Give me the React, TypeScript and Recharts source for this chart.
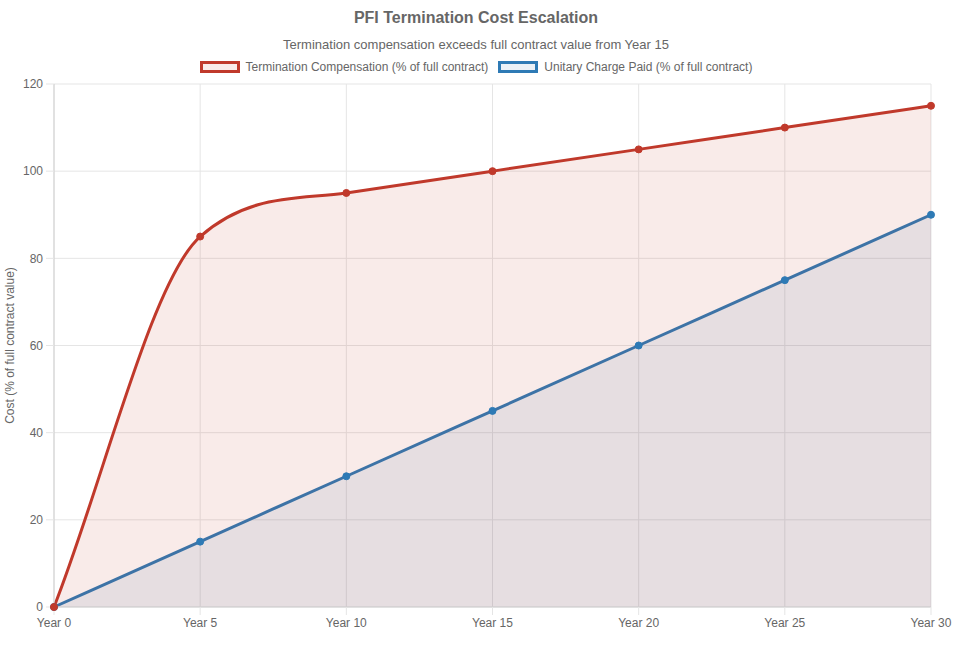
import { AreaChart, Area, XAxis, YAxis, CartesianGrid } from 'recharts';

const years = ['Year 0', 'Year 5', 'Year 10', 'Year 15', 'Year 20', 'Year 25', 'Year 30'];
const terminationComp = [0, 85, 95, 100, 105, 110, 115];
const unitaryCharge = [0, 15, 30, 45, 60, 75, 90];
const yTicks = [0, 20, 40, 60, 80, 100, 120];

const seriesNames = ['Termination Compensation (% of full contract)', 'Unitary Charge Paid (% of full contract)'];

const RED = '#c0392b';
const BLUE = '#2e7ab5';
const RED_FILL = 'rgba(192, 57, 43, 0.1)';
const BLUE_FILL = 'rgba(46, 122, 181, 0.1)';
const TEXT = '#666';
const FONT = '"Liberation Sans", Arial, Helvetica, sans-serif';

const data = years.map((year, i) => ({
  year,
  termination: terminationComp[i],
  unitary: unitaryCharge[i],
}));

// monotone cubic like chart.js (cubicInterpolationMode: 'monotone'), as a d3 curve factory
function monotoneChartJs(context: any) {
  let line = NaN;
  let pts: number[][] = [];
  return {
    areaStart() { line = 0; },
    areaEnd() { line = NaN; },
    lineStart() { pts = []; },
    point(x: number, y: number) { pts.push([+x, +y]); },
    lineEnd() {
      const n = pts.length;
      if (n) {
        if (line) context.lineTo(pts[0][0], pts[0][1]);
        else context.moveTo(pts[0][0], pts[0][1]);
        const deltaK = new Array(n).fill(0);
        const mK = new Array(n).fill(0);
        for (let i = 0; i < n; i++) {
          if (i < n - 1) {
            const dx = pts[i + 1][0] - pts[i][0];
            deltaK[i] = dx !== 0 ? (pts[i + 1][1] - pts[i][1]) / dx : 0;
          }
          mK[i] = i === 0 ? deltaK[i]
            : i === n - 1 ? deltaK[i - 1]
            : Math.sign(deltaK[i - 1]) !== Math.sign(deltaK[i]) ? 0
            : (deltaK[i - 1] + deltaK[i]) / 2;
        }
        for (let i = 0; i < n - 1; i++) {
          if (Math.abs(deltaK[i]) < 1e-9) {
            mK[i] = mK[i + 1] = 0;
            continue;
          }
          const a = mK[i] / deltaK[i];
          const b = mK[i + 1] / deltaK[i];
          const sq = a * a + b * b;
          if (sq <= 9) continue;
          const tau = 3 / Math.sqrt(sq);
          mK[i] = a * tau * deltaK[i];
          mK[i + 1] = b * tau * deltaK[i];
        }
        for (let i = 1; i < n; i++) {
          const d = (pts[i][0] - pts[i - 1][0]) / 3;
          context.bezierCurveTo(
            pts[i - 1][0] + d, pts[i - 1][1] + d * mK[i - 1],
            pts[i][0] - d, pts[i][1] - d * mK[i],
            pts[i][0], pts[i][1],
          );
        }
      }
      if (line || (line !== 0 && n === 1)) context.closePath();
      line = 1 - line;
    },
  };
}

function LegendBox({ color, fill, label }: { color: string; fill: string; label: string }) {
  return (
    <div style={{ display: 'flex', alignItems: 'center', marginRight: 10 }}>
      <div style={{ width: 40, height: 12, boxSizing: 'border-box', border: `3px solid ${color}`, background: fill, marginRight: 6 }} />
      <span style={{ fontSize: 12, color: TEXT }}>{label}</span>
    </div>
  );
}

const YLabel = (props: any) => {
  const { viewBox } = props;
  const cy = viewBox.y + viewBox.height / 2;
  return (
    <text x={10} y={cy} transform={`rotate(-90 10 ${cy})`} textAnchor="middle" dominantBaseline="central"
      fontSize={12} fill={TEXT} fontFamily={FONT}>
      Cost (% of full contract value)
    </text>
  );
};

export default function App() {
  return (
    <div style={{ position: 'fixed', left: 0, top: 0, width: 977, height: 656, background: '#fff', fontFamily: FONT }}>
      <div style={{ position: 'absolute', left: 0, top: 9, width: 952, textAlign: 'center', fontSize: 16, fontWeight: 'bold', color: TEXT }}>
        PFI Termination Cost Escalation
      </div>
      <div style={{ position: 'absolute', left: 0, top: 37, width: 952, textAlign: 'center', fontSize: 13, color: TEXT }}>
        Termination compensation exceeds full contract value from Year 15
      </div>
      <div style={{ position: 'absolute', left: 0, top: 60, width: 962, display: 'flex', justifyContent: 'center' }}>
        <LegendBox color={RED} fill={RED_FILL} label={seriesNames[0]} />
        <LegendBox color={BLUE} fill={BLUE_FILL} label={seriesNames[1]} />
      </div>
      <AreaChart width={977} height={656} data={data} margin={{ top: 84, right: 46, bottom: 19, left: 0 }}
        style={{ position: 'absolute', left: 0, top: 0 }}>
        <CartesianGrid stroke="#e5e5e5" strokeWidth={1} />
        <XAxis dataKey="year" scale="point" padding={{ left: 0, right: 0 }} height={30}
          tickSize={8} tickMargin={3} interval={0}
          tick={{ fontSize: 12, fill: TEXT, fontFamily: FONT }}
          tickLine={{ stroke: '#e5e5e5' }} axisLine={{ stroke: '#d0d0d0' }} />
        <YAxis domain={[0, 120]} ticks={yTicks} width={54} tickSize={8} tickMargin={3}
          tick={{ fontSize: 12, fill: TEXT, fontFamily: FONT }}
          tickLine={{ stroke: '#e5e5e5' }} axisLine={{ stroke: '#d0d0d0' }}
          label={<YLabel />} />
        <Area dataKey="unitary" name={seriesNames[1]} type={monotoneChartJs as any} stroke={BLUE} strokeWidth={3}
          fill={BLUE_FILL} fillOpacity={1} baseValue={0}
          dot={{ r: 3.5, fill: BLUE, stroke: BLUE, strokeWidth: 1 }} activeDot={false} isAnimationActive={false} />
        <Area dataKey="termination" name={seriesNames[0]} type={monotoneChartJs as any} stroke={RED} strokeWidth={3}
          fill={RED_FILL} fillOpacity={1} baseValue={0}
          dot={{ r: 3.5, fill: RED, stroke: RED, strokeWidth: 1 }} activeDot={false} isAnimationActive={false} />
      </AreaChart>
    </div>
  );
}
